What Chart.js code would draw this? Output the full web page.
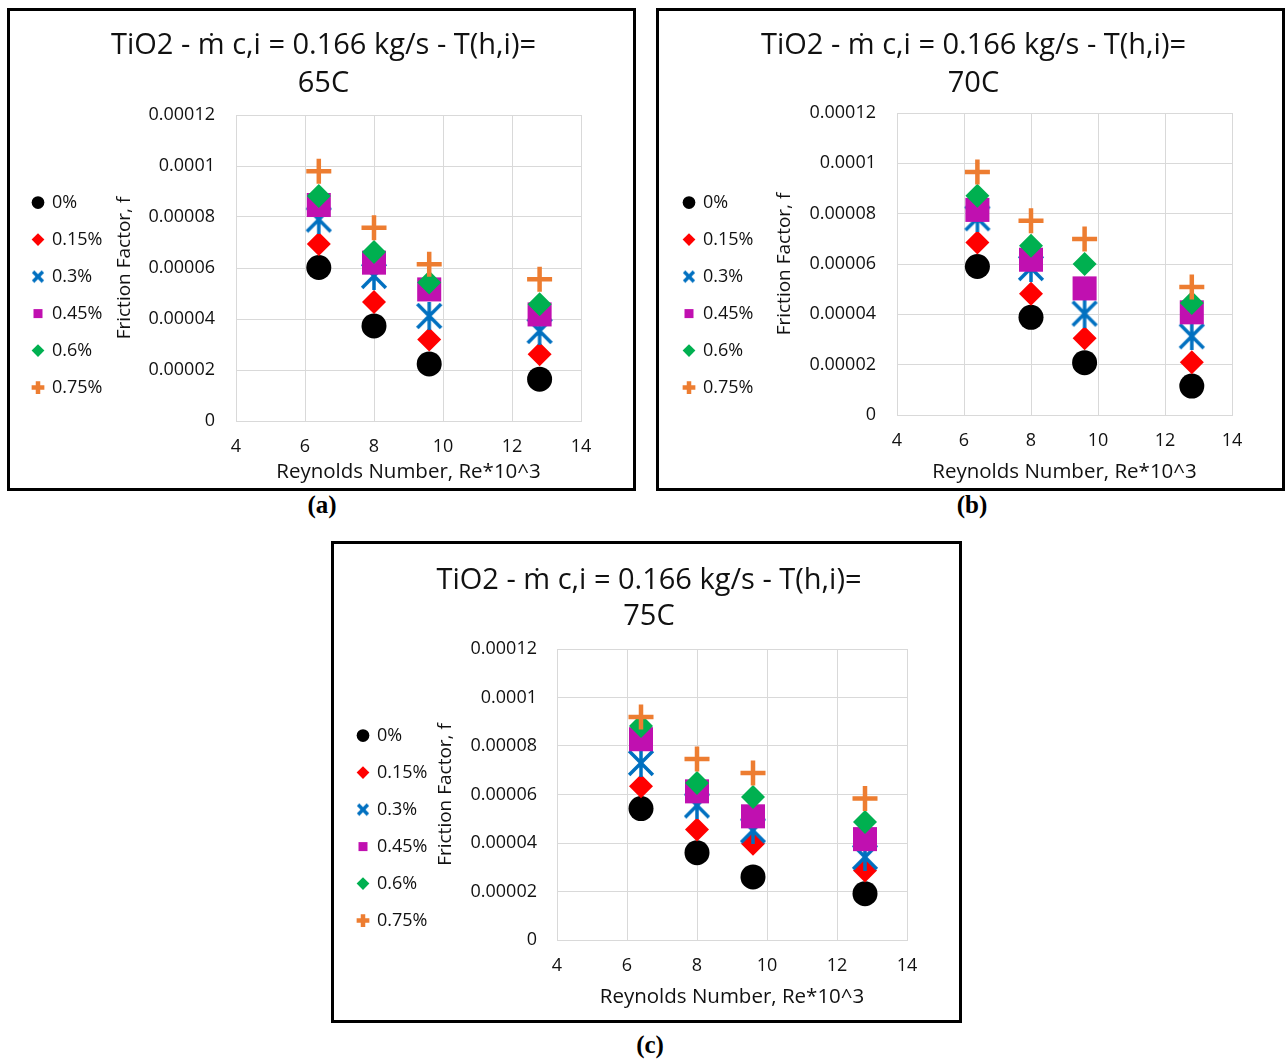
<!DOCTYPE html>
<html>
<head>
<meta charset="utf-8">
<script src="https://cdn.jsdelivr.net/npm/chart.js@4.4.1/dist/chart.umd.min.js"></script>
<style>
  body { margin: 0; background: #fff; width: 1285px; height: 1059px; position: relative; overflow: hidden; }
  .box { position: absolute; border: 3px solid #000; box-sizing: border-box; background: #fff; }
  .box canvas { display: block; }
  .cap { position: absolute; font: bold 25px "Liberation Serif", serif; transform: translate(-50%, -50%); color: #000; }
</style>
</head>
<body>
<div class="box" style="left:7px;top:8px;width:629px;height:483px"><canvas id="chartA" width="623" height="477"></canvas></div>
<div class="box" style="left:656px;top:8px;width:629px;height:483px"><canvas id="chartB" width="623" height="477"></canvas></div>
<div class="box" style="left:331px;top:541px;width:631px;height:482px"><canvas id="chartC" width="625" height="476"></canvas></div>
<div class="cap" style="left:322px;top:505px">(a)</div>
<div class="cap" style="left:972px;top:505px">(b)</div>
<div class="cap" style="left:650px;top:1045px">(c)</div>
<script>
// Reynolds number (x10^3) of the four runs
const reynolds = [6.4, 8.0, 9.6, 12.8];
const concentrations = ['0%', '0.15%', '0.3%', '0.45%', '0.6%', '0.75%'];
const xTicks = [4, 6, 8, 10, 12, 14];
const yTicks = [0, 0.00002, 0.00004, 0.00006, 0.00008, 0.0001, 0.00012];

// friction factor, one row per concentration
const friction65 = [
  [6.02e-5, 3.73e-5, 2.24e-5, 1.64e-5],
  [6.94e-5, 4.67e-5, 3.20e-5, 2.62e-5],
  [7.90e-5, 5.69e-5, 4.12e-5, 3.53e-5],
  [8.47e-5, 6.21e-5, 5.16e-5, 4.18e-5],
  [8.82e-5, 6.63e-5, 5.43e-5, 4.58e-5],
  [9.79e-5, 7.58e-5, 6.15e-5, 5.56e-5]
];
const friction70 = [
  [5.90e-5, 3.88e-5, 2.08e-5, 1.15e-5],
  [6.85e-5, 4.82e-5, 3.05e-5, 2.10e-5],
  [7.82e-5, 5.84e-5, 4.03e-5, 3.13e-5],
  [8.15e-5, 6.17e-5, 5.03e-5, 4.08e-5],
  [8.71e-5, 6.73e-5, 6.00e-5, 4.45e-5],
  [9.66e-5, 7.72e-5, 6.99e-5, 5.09e-5]
];
const friction75 = [
  [5.42e-5, 3.60e-5, 2.60e-5, 1.91e-5],
  [6.34e-5, 4.56e-5, 3.97e-5, 2.87e-5],
  [7.30e-5, 5.55e-5, 4.52e-5, 3.42e-5],
  [8.28e-5, 6.13e-5, 5.10e-5, 4.16e-5],
  [8.82e-5, 6.47e-5, 5.90e-5, 4.87e-5],
  [9.20e-5, 7.46e-5, 6.89e-5, 5.83e-5]
];

const FONT = '"Open Sans"';
const TXT = '#111';

// excel "star" marker: X with a vertical bar
function starMarker(size, lw, color, withBar) {
  const c = document.createElement('canvas');
  c.width = size; c.height = size;
  const g = c.getContext('2d');
  g.strokeStyle = color;
  g.lineWidth = lw;
  const m = lw * 0.6;
  g.beginPath();
  g.moveTo(m, m); g.lineTo(size - m, size - m);
  g.moveTo(size - m, m); g.lineTo(m, size - m);
  if (withBar) { g.moveTo(size / 2, 0); g.lineTo(size / 2, size); }
  g.stroke();
  return c;
}

const bigStar = starMarker(28, 3.5, '#0070C0', true);
const smallX = starMarker(14, 3.5, '#0070C0', false);

const markers = [
  { color: '#000000', style: 'circle', radius: 12.5, bw: 0 },
  { color: '#FF0000', style: 'rectRot', radius: 12, bw: 0 },
  { color: '#0070C0', style: bigStar, radius: 14, bw: 0, legend: smallX },
  { color: '#C010B0', style: 'rect', radius: 17, bw: 0 },
  { color: '#00B050', style: 'rectRot', radius: 12, bw: 0 },
  { color: '#ED7D31', style: 'cross', radius: 12.5, bw: 4.5 }
];

function makeChart(id, temp, rows, lay) {
  const datasets = concentrations.map((name, i) => ({
    label: name,
    data: reynolds.map((x, j) => ({ x: x, y: rows[i][j] })),
    pointStyle: markers[i].style,
    pointRadius: markers[i].radius,
    pointHoverRadius: markers[i].radius,
    backgroundColor: markers[i].color,
    borderColor: markers[i].color,
    borderWidth: markers[i].bw,
    showLine: false,
    order: concentrations.length - i   // later series drawn on top, like Excel
  }));

  return new Chart(document.getElementById(id), {
    type: 'scatter',
    data: { datasets: datasets },
    options: {
      responsive: false,
      animation: false,
      layout: { padding: { left: lay.padLeft, right: 0, top: 0, bottom: 0 } },
      plugins: {
        tooltip: { enabled: false },
        title: {
          display: true,
          text: ['TiO2 - ṁ c,i = 0.166 kg/s - T(h,i)=', temp],
          color: TXT,
          font: { family: FONT, size: 29, weight: 'normal', lineHeight: lay.titleLH },
          padding: { top: lay.titleTop, bottom: lay.titleBottom }
        },
        legend: {
          position: 'left',
          align: 'start',
          maxWidth: 95,
          title: { display: true, text: ' ', font: { family: FONT, size: 18, lineHeight: 1.2 }, padding: { top: 142, bottom: 0 } },
          labels: {
            usePointStyle: true,
            boxWidth: 10,
            boxHeight: 9,
            padding: 19,
            color: TXT,
            font: { family: FONT, size: 18 },
            generateLabels(chart) {
              const items = Chart.defaults.plugins.legend.labels.generateLabels(chart);
              items.sort((a, b) => a.datasetIndex - b.datasetIndex);
              items.forEach(it => {
                const m = markers[it.datasetIndex];
                if (m.legend) it.pointStyle = m.legend;
              });
              return items;
            }
          }
        }
      },
      scales: {
        x: {
          type: 'linear',
          min: 4, max: 14,
          afterBuildTicks(scale) { scale.ticks = xTicks.map(v => ({ value: v })); },
          afterFit(scale) { scale.height = lay.xHeight; },
          grid: { color: '#d9d9d9', drawTicks: false },
          border: { color: '#d9d9d9' },
          ticks: { color: TXT, padding: 15, font: { family: FONT, size: 18 } },
          title: {
            display: true,
            text: 'Reynolds Number, Re*10^3',
            color: TXT,
            font: { family: FONT, size: 20.5 },
            padding: { top: 0, bottom: lay.xTitleBottom }
          }
        },
        y: {
          type: 'linear',
          min: 0, max: 0.00012,
          afterBuildTicks(scale) { scale.ticks = yTicks.map(v => ({ value: v })); },
          afterFit(scale) { scale.width = lay.yWidth; },
          grid: { color: '#d9d9d9', drawTicks: false },
          border: { color: '#d9d9d9' },
          ticks: {
            color: TXT,
            padding: lay.yTickPad,
            font: { family: FONT, size: 18 },
            callback: v => String(parseFloat(v.toFixed(6)))
          },
          title: {
            display: true,
            text: 'Friction Factor, f',
            color: TXT,
            font: { family: FONT, size: 19 },
            padding: { top: lay.yTitleTop, bottom: 0 }
          }
        },
        // empty right-hand spacer so the chart title stays centred on the whole box
        spacer: {
          type: 'linear',
          position: 'right',
          min: 0, max: 1,
          afterFit(scale) { scale.width = lay.padRight; },
          grid: { display: false },
          border: { display: false },
          ticks: { display: false }
        }
      }
    }
  });
}

makeChart('chartA', '65C', friction65, {
  padLeft: 4, padRight: 52, titleLH: 38 / 29, titleTop: 16, titleBottom: 12,
  xHeight: 67, xTitleBottom: 4, yWidth: 127, yTickPad: 21, yTitleTop: 4
});
makeChart('chartB', '70C', friction70, {
  padLeft: 6, padRight: 50, titleLH: 38 / 29, titleTop: 16, titleBottom: 10,
  xHeight: 73, xTitleBottom: 4, yWidth: 137, yTickPad: 21, yTitleTop: 13
});
makeChart('chartC', '75C', friction75, {
  padLeft: 5, padRight: 52, titleLH: 36 / 29, titleTop: 19, titleBottom: 14,
  xHeight: 80, xTitleBottom: 11, yWidth: 123, yTickPad: 20, yTitleTop: 0
});
</script>
</body>
</html>
